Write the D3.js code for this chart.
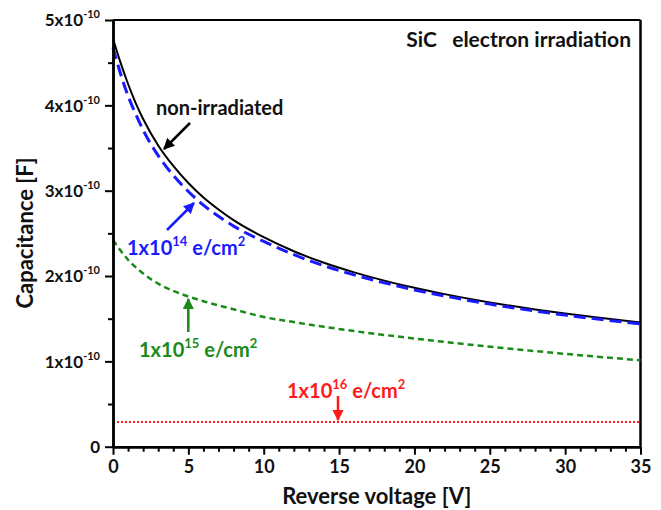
<!DOCTYPE html>
<html>
<head>
<meta charset="utf-8">
<script src="https://cdn.jsdelivr.net/npm/d3@7"></script>
<style>
  html, body { margin: 0; padding: 0; background: #fff; }
  svg { display: block; font-family: Lato, "Open Sans", sans-serif; font-weight: bold; }
</style>
</head>
<body>
<svg id="chart" width="661" height="510"></svg>
<script>
// ---- data (capacitance in units of 1e-10 F) ----
const voltage = [0, 0.5, 1, 1.5, 2, 3, 4, 5, 6, 7, 8, 10, 12, 14, 16, 18, 20, 22, 25, 28, 30, 32, 35];
const capNonIrradiated = [4.78, 4.50, 4.25, 4.03, 3.84, 3.53, 3.29, 3.09, 2.92, 2.78, 2.655, 2.455, 2.29, 2.155, 2.043, 1.946, 1.862, 1.788, 1.691, 1.609, 1.56, 1.516, 1.455];
const cap1e14 = [4.68, 4.37, 4.11, 3.90, 3.71, 3.41, 3.18, 2.99, 2.83, 2.70, 2.585, 2.405, 2.25, 2.12, 2.013, 1.92, 1.837, 1.766, 1.671, 1.59, 1.542, 1.499, 1.44];
const voltageG = [0, 1, 2, 3, 4, 5, 6, 7, 8, 10, 12, 14, 16, 18, 20, 22, 24, 27, 30, 32, 35];
const cap1e15 = [2.42, 2.19, 2.03, 1.91, 1.825, 1.76, 1.705, 1.655, 1.61, 1.52, 1.46, 1.405, 1.355, 1.31, 1.268, 1.228, 1.19, 1.137, 1.088, 1.057, 1.013];
const voltageR = [0, 35];
const cap1e16 = [0.29, 0.29];

const xTicks = [0, 5, 10, 15, 20, 25, 30, 35];
const xTickLabels = ["0", "5", "10", "15", "20", "25", "30", "35"];
const yTicks = [0, 1, 2, 3, 4, 5];
const yTickMantissa = ["0", "1x10", "2x10", "3x10", "4x10", "5x10"];
const yTickExponent = ["", "-10", "-10", "-10", "-10", "-10"];

const svg = d3.select("#chart");
const x = d3.scaleLinear().domain([0, 35]).range([113, 640.5]);
const y = d3.scaleLinear().domain([0, 5]).range([446.7, 20]);

// ---- frame (top & right) ----
svg.append("line").attr("x1", x(0)).attr("x2", x(35)).attr("y1", y(5)).attr("y2", y(5))
  .attr("stroke", "#000").attr("stroke-width", 2);
svg.append("line").attr("x1", x(35)).attr("x2", x(35)).attr("y1", y(5)).attr("y2", y(0))
  .attr("stroke", "#000").attr("stroke-width", 2.5);

// ---- curves ----
const line = d3.line().x(d => x(d[0])).y(d => y(d[1])).curve(d3.curveMonotoneX);
const zip = (a, b) => a.map((v, i) => [v, b[i]]);

svg.append("path").datum(zip(voltageR, cap1e16)).attr("d", line)
  .attr("fill", "none").attr("stroke", "#ff1a1a").attr("stroke-width", 2)
  .attr("stroke-dasharray", "2,2");
svg.append("path").datum(zip(voltageG, cap1e15)).attr("d", line)
  .attr("fill", "none").attr("stroke", "#1a8a1a").attr("stroke-width", 2.5)
  .attr("stroke-dasharray", "6,4");
svg.append("path").datum(zip(voltage, capNonIrradiated)).attr("d", line)
  .attr("fill", "none").attr("stroke", "#000").attr("stroke-width", 2);
svg.append("path").datum(zip(voltage, cap1e14)).attr("d", line)
  .attr("fill", "none").attr("stroke", "#1a1aff").attr("stroke-width", 3)
  .attr("stroke-dasharray", "12,6");

// ---- axes ----
const styleAxis = g => {
  g.selectAll("path.domain").attr("stroke", "#000").attr("stroke-width", 2.5);
  g.selectAll(".tick line").attr("stroke", "#000").attr("stroke-width", 2);
};
const xMinor = d3.range(1, 35).filter(v => v % 5 !== 0);
svg.append("g").attr("transform", `translate(0,${y(0)})`)
  .call(d3.axisBottom(x).tickValues(xMinor).tickSize(5).tickFormat("").tickSizeOuter(0))
  .call(styleAxis);
const gx = svg.append("g").attr("transform", `translate(0,${y(0)})`)
  .call(d3.axisBottom(x).tickValues(xTicks).tickSize(8).tickFormat((d, i) => xTickLabels[i]).tickSizeOuter(0))
  .call(styleAxis);
gx.selectAll(".tick text").attr("font-size", 18).attr("font-family", "Lato, sans-serif")
  .attr("font-weight", "bold").attr("fill", "#111").attr("dy", "0.85em");

const yMinor = [0.5, 1.5, 2.5, 3.5, 4.5];
svg.append("g").attr("transform", `translate(${x(0)},0)`)
  .call(d3.axisLeft(y).tickValues(yMinor).tickSize(5).tickFormat("").tickSizeOuter(0))
  .call(styleAxis);
const gy = svg.append("g").attr("transform", `translate(${x(0)},0)`)
  .call(d3.axisLeft(y).tickValues(yTicks).tickSize(8).tickFormat("").tickSizeOuter(0))
  .call(styleAxis);
gy.selectAll(".tick").each(function(d, i) {
  const t = d3.select(this).append("text")
    .attr("x", -13).attr("y", 0).attr("dy", "0.35em")
    .attr("text-anchor", "end").attr("fill", "#111")
    .attr("font-size", 17).attr("font-weight", "bold").attr("font-family", "Lato, sans-serif");
  t.append("tspan").text(yTickMantissa[i]);
  if (yTickExponent[i]) {
    t.append("tspan").attr("font-size", 11).attr("dy", "-0.75em").text(yTickExponent[i]);
  }
});

// ---- axis titles ----
svg.append("text").attr("x", x(17.5)).attr("y", 504).attr("text-anchor", "middle")
  .attr("font-size", 22).attr("fill", "#111").text("Reverse voltage [V]");
svg.append("text").attr("transform", `translate(33,233) rotate(-90)`).attr("text-anchor", "middle")
  .attr("font-size", 22).attr("fill", "#111").text("Capacitance [F]");

// ---- annotations ----
svg.append("text").attr("x", 631).attr("y", 47).attr("text-anchor", "end")
  .attr("font-size", 21).attr("fill", "#111").attr("xml:space", "preserve").text("SiC   electron irradiation");

const defs = svg.append("defs");
function marker(id, color) {
  defs.append("marker").attr("id", id).attr("viewBox", "0 0 10 10")
    .attr("refX", 9).attr("refY", 5).attr("markerWidth", 4.5).attr("markerHeight", 4.5)
    .attr("markerUnits", "strokeWidth").attr("orient", "auto")
    .append("path").attr("d", "M0,0 L10,5 L0,10 z").attr("fill", color);
}
marker("ah-black", "#000");
marker("ah-blue", "#1a1aff");
marker("ah-green", "#1a8a1a");
marker("ah-red", "#ff1a1a");
function arrow(x1, y1, x2, y2, color, id) {
  svg.append("line").attr("x1", x1).attr("y1", y1).attr("x2", x2).attr("y2", y2)
    .attr("stroke", color).attr("stroke-width", 2.5).attr("marker-end", `url(#${id})`);
}

svg.append("text").attr("x", 156).attr("y", 115).attr("font-size", 20).attr("fill", "#111").text("non-irradiated");
arrow(190, 123, 164, 149, "#000", "ah-black");

function fluenceLabel(xp, yp, exp, color) {
  const t = svg.append("text").attr("x", xp).attr("y", yp).attr("font-size", 20).attr("fill", color);
  t.append("tspan").text("1x10");
  t.append("tspan").attr("font-size", 13).attr("dy", -9).text(exp);
  t.append("tspan").attr("dy", 9).text(" e/cm");
  t.append("tspan").attr("font-size", 13).attr("dy", -9).text("2");
}
fluenceLabel(127, 255, "14", "#1a1aff");
arrow(167, 230, 194, 203, "#1a1aff", "ah-blue");

fluenceLabel(139, 357, "15", "#1a8a1a");
arrow(188.3, 332, 188.3, 299, "#1a8a1a", "ah-green");

fluenceLabel(287, 398, "16", "#ff1a1a");
arrow(338, 396, 338, 420, "#ff1a1a", "ah-red");
</script>
</body>
</html>
